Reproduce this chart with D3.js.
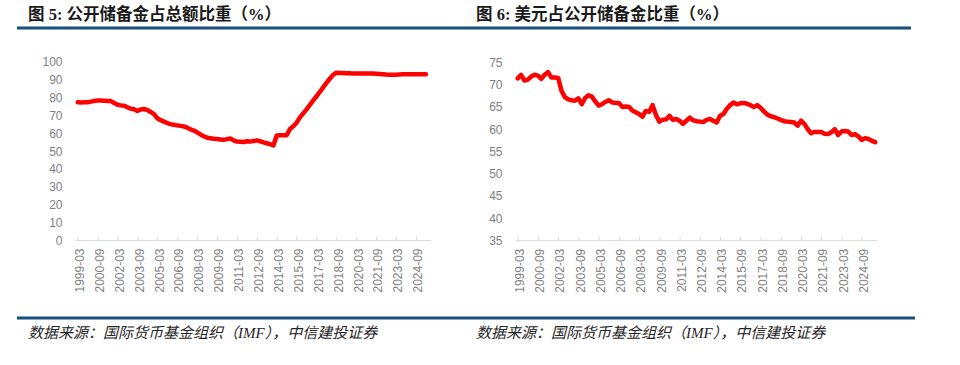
<!DOCTYPE html>
<html>
<head>
<meta charset="utf-8">
<script src="https://cdnjs.cloudflare.com/ajax/libs/d3/7.8.5/d3.min.js"></script>
<style>
  body { margin: 0; background: #fff; }
  svg { display: block; }
  .title { font-family: "Liberation Serif", "Noto Sans CJK SC", serif; font-weight: bold; font-size: 16.5px; fill: #1a1a1a; }
  .source { font-family: "Liberation Serif", "Noto Sans CJK SC", serif; font-style: italic; font-size: 15px; fill: #262626; }
  .axis text { font-family: "Liberation Sans", Arial, sans-serif; font-size: 12px; fill: #7f7f7f; }
</style>
</head>
<body>
<svg width="960" height="365"></svg>
<script>
"use strict";

// quarterly categories, 1999-03 .. 2025-09
var quarters = [];
for (var yr = 1999; yr <= 2025; yr++) {
    ["03", "06", "09", "12"].forEach(function (m) { quarters.push(yr + "-" + m); });
}
quarters = quarters.slice(0, 107);

var tickLabels = ["1999-03", "2000-09", "2002-03", "2003-09", "2005-03", "2006-09",
    "2008-03", "2009-09", "2011-03", "2012-09", "2014-03", "2015-09",
    "2017-03", "2018-09", "2020-03", "2021-09", "2023-03", "2024-09"];

// 图5: allocated reserves share of total (%)
var allocatedShare = [
    77.4, 77.3, 77.4, 77.5, 77.8, 78.2, 78.5, 78.4, 78.3, 78.2, 78.1, 77.0,
    76.0, 75.7, 75.5, 74.6, 73.9, 73.5, 72.6, 73.4, 73.7, 73.1, 72.0, 70.8,
    68.5, 67.4, 66.6, 65.8, 65.2, 64.8, 64.5, 64.2, 63.9, 63.2, 62.3, 61.6,
    60.6, 59.4, 58.4, 57.6, 57.3, 57.0, 56.8, 56.6, 56.4, 56.8, 57.1, 56.1,
    55.4, 55.3, 55.2, 55.6, 55.4, 55.7, 56.1, 55.6, 55.0, 54.5, 54.0, 53.2,
    58.8, 58.9, 58.9, 59.0, 62.5, 64.0, 66.0, 69.0, 71.2, 73.5, 76.0, 78.5,
    80.8, 83.2, 85.8, 88.3, 90.6, 92.8, 94.0, 93.8, 93.8, 93.7, 93.7, 93.6,
    93.6, 93.6, 93.5, 93.5, 93.5, 93.5, 93.4, 93.3, 93.2, 93.0, 92.9, 92.9,
    92.9, 93.0, 93.1, 93.1, 93.1, 93.1, 93.1, 93.2, 93.2, 93.2
];

// 图6: USD share of allocated reserves (%)
var usdShare = [
    71.4, 72.2, 70.9, 71.1, 71.8, 72.2, 72.0, 71.3, 72.2, 72.8, 71.6, 71.6,
    71.5, 68.6, 67.2, 66.7, 66.5, 66.4, 66.9, 65.6, 67.0, 67.6, 67.3, 66.2,
    65.3, 65.6, 66.1, 66.5, 66.0, 65.9, 65.9, 65.0, 65.1, 65.0, 64.2, 63.8,
    63.4, 62.8, 64.1, 63.9, 65.4, 63.2, 61.7, 62.1, 62.2, 63.0, 62.1, 62.3,
    61.9, 61.2, 61.9, 62.6, 62.0, 61.8, 61.7, 61.6, 62.1, 62.3, 61.9, 61.5,
    63.0, 63.4, 64.6, 65.4, 66.0, 65.6, 65.8, 65.9, 65.7, 65.4, 65.0, 65.4,
    64.8, 64.0, 63.3, 62.9, 62.7, 62.4, 62.1, 61.8, 61.7, 61.6, 61.5, 60.8,
    61.9, 61.2, 60.0, 59.1, 59.4, 59.4, 59.4, 59.0, 58.9, 59.3, 60.0, 58.7,
    59.5, 59.6, 59.5, 58.7, 58.9, 58.4, 57.6, 58.0, 57.8, 57.4, 57.1
];

var titles = ["图 5: 公开储备金占总额比重（%）", "图 6: 美元占公开储备金比重（%）"];
var sourceText = "数据来源：国际货币基金组织（IMF），中信建投证券";

var svg = d3.select("svg");

// header / footer rules
svg.append("rect").attr("x", 17).attr("y", 26.5).attr("width", 894).attr("height", 3).attr("fill", "#174f7f");
svg.append("rect").attr("x", 17).attr("y", 316.5).attr("width", 898).attr("height", 3).attr("fill", "#174f7f");

function drawChart(opts) {
    var g = svg.append("g");

    g.append("text").attr("class", "title")
        .attr("x", opts.titleX).attr("y", 19.5)
        .text(opts.title);

    g.append("text").attr("class", "source")
        .attr("x", opts.titleX).attr("y", 338)
        .text(sourceText);

    var x = d3.scalePoint().domain(quarters).range(opts.xRange);
    var y = d3.scaleLinear().domain(opts.yDomain).range(opts.yRange);

    // y labels, no axis line
    var yAxis = g.append("g").attr("class", "axis")
        .attr("transform", "translate(" + opts.yLabelX + ",0)")
        .call(d3.axisLeft(y).tickValues(opts.yTicks).tickSize(0).tickPadding(0));
    yAxis.select(".domain").remove();

    // x axis
    var xAxis = g.append("g").attr("class", "axis")
        .attr("transform", "translate(0," + opts.yRange[0] + ")")
        .call(d3.axisBottom(x).tickValues(tickLabels).tickSize(-4).tickSizeOuter(0));
    xAxis.select(".domain").remove();
    xAxis.selectAll(".tick line").attr("stroke", "#d9d9d9");
    xAxis.selectAll(".tick text")
        .attr("transform", "rotate(-90)")
        .attr("text-anchor", "end")
        .attr("x", -8).attr("y", 1.5).attr("dy", "0.35em");
    xAxis.append("line")
        .attr("x1", opts.xRange[0] - 2.5).attr("x2", opts.xRange[1] + 2)
        .attr("stroke", "#d9d9d9").attr("stroke-width", 1);

    var line = d3.line()
        .x(function (d, i) { return x(quarters[i]); })
        .y(function (d) { return y(d); });

    g.append("path")
        .datum(opts.values)
        .attr("fill", "none")
        .attr("stroke", "#ff0000")
        .attr("stroke-width", 4.5)
        .attr("stroke-linejoin", "round")
        .attr("stroke-linecap", "round")
        .attr("d", line);
}

drawChart({
    title: titles[0], titleX: 28,
    values: allocatedShare,
    xRange: [77.7, 429.3],
    yDomain: [0, 100], yRange: [240.5, 62], yTicks: d3.range(0, 101, 10),
    yLabelX: 62.5
});

drawChart({
    title: titles[1], titleX: 476,
    values: usdShare,
    xRange: [517.7, 875.2],
    yDomain: [35, 75], yRange: [240.7, 62.3], yTicks: d3.range(35, 76, 5),
    yLabelX: 502.5
});
</script>
</body>
</html>
